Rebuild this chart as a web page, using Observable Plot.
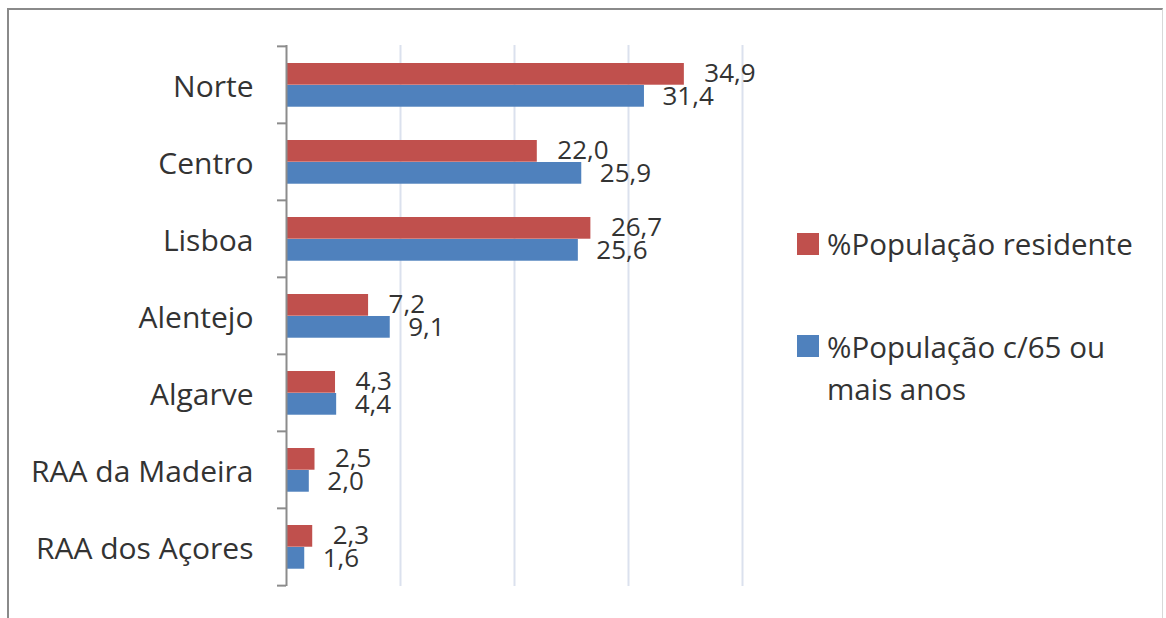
<!DOCTYPE html>
<html><head><meta charset="utf-8">
<script src="https://cdn.jsdelivr.net/npm/d3@7"></script>
<script src="https://cdn.jsdelivr.net/npm/@observablehq/plot@0.6"></script>
<style>
  body { margin: 0; background: #fff; font-family: "Open Sans", sans-serif; }
  #wrap { position: relative; width: 1166px; height: 618px; overflow: hidden; background: #fff; }
  #chart { position: absolute; left: 0; top: 0; }
  #frame { position: absolute; left: 7px; top: 8px; width: 1156px; height: 650px; box-sizing: border-box;
           border: 2px solid #8a8a8a; border-right: 1px solid #d8d8d8; pointer-events: none; }
  .leg { position: absolute; left: 797px; font-size: 29.5px; color: #333; }
  .leg .sw { position: absolute; left: 0; width: 22px; height: 22px; }
  .leg .tx { position: absolute; left: 30px; white-space: nowrap; line-height: 42px; }
</style>
</head>
<body>
<div id="wrap">
  <div id="chart"></div>
  <div id="legend"></div>
  <div id="frame"></div>
</div>
<script>
const regions = ["Norte", "Centro", "Lisboa", "Alentejo", "Algarve", "RAA da Madeira", "RAA dos Açores"];
const residente = [34.9, 22.0, 26.7, 7.2, 4.3, 2.5, 2.3];
const idosos = [31.4, 25.9, 25.6, 9.1, 4.4, 2.0, 1.6];
const seriesNames = ["%População residente", "%População c/65 ou mais anos"];
const seriesColors = ["#C0504D", "#4F81BD"];
const gridTicks = [10, 20, 30, 40];

const W = 1166, H = 618, mT = 45, mB = 32, mL = 286, mR = 424;
const step = (H - mT - mB) / regions.length;
const fmt = v => v.toFixed(1).replace(".", ",");

const resRows = regions.map((r, i) => ({region: r, value: residente[i]}));
const oldRows = regions.map((r, i) => ({region: r, value: idosos[i]}));

const axisColor = "#8c8c8c";
const textColor = "#333";

const plot = Plot.plot({
  width: W, height: H,
  marginTop: mT, marginBottom: mB, marginLeft: mL, marginRight: mR,
  style: {fontFamily: "'Open Sans', sans-serif", background: "transparent"},
  x: {domain: [0, 40], axis: null},
  y: {domain: regions, padding: 0, axis: null},
  marks: [
    Plot.ruleX(gridTicks, {stroke: "#dbe1ee", strokeWidth: 2}),
    Plot.barX(resRows, {y: "region", x: "value", fill: seriesColors[0], insetTop: 17, insetBottom: step - 39}),
    Plot.barX(oldRows, {y: "region", x: "value", fill: seriesColors[1], insetTop: 39, insetBottom: step - 61}),
    Plot.ruleX([0], {stroke: axisColor, strokeWidth: 2}),
    Plot.axisY({tickSize: 0, tickPadding: 33, fontSize: 30, fill: textColor, label: null, dy: 2}),
    Plot.axisY({text: null, tickSize: 9, dy: -step / 2, stroke: axisColor, strokeWidth: 2, label: null}),
    Plot.axisY({ticks: [regions[regions.length - 1]], text: null, tickSize: 9, dy: step / 2, stroke: axisColor, strokeWidth: 2, label: null}),
    Plot.text(resRows, {x: "value", y: "region", text: d => fmt(d.value), dx: 20, dy: -11, textAnchor: "start", fontSize: 26, fill: textColor}),
    Plot.text(oldRows, {x: "value", y: "region", text: d => fmt(d.value), dx: 18, dy: 12, textAnchor: "start", fontSize: 26, fill: textColor})
  ]
});
document.getElementById("chart").appendChild(plot);

const legend = document.getElementById("legend");
const legTops = [223, 326];
const swTops = [10, 9];
seriesNames.forEach((name, i) => {
  const item = document.createElement("div");
  item.className = "leg";
  item.style.top = legTops[i] + "px";
  const sw = document.createElement("div");
  sw.className = "sw";
  sw.style.background = seriesColors[i];
  sw.style.top = swTops[i] + "px";
  const tx = document.createElement("div");
  tx.className = "tx";
  if (i === 1) {
    tx.innerHTML = "%População c/65 ou<br>mais anos";
  } else {
    tx.textContent = name;
  }
  item.appendChild(sw);
  item.appendChild(tx);
  legend.appendChild(item);
});
</script>
</body></html>
